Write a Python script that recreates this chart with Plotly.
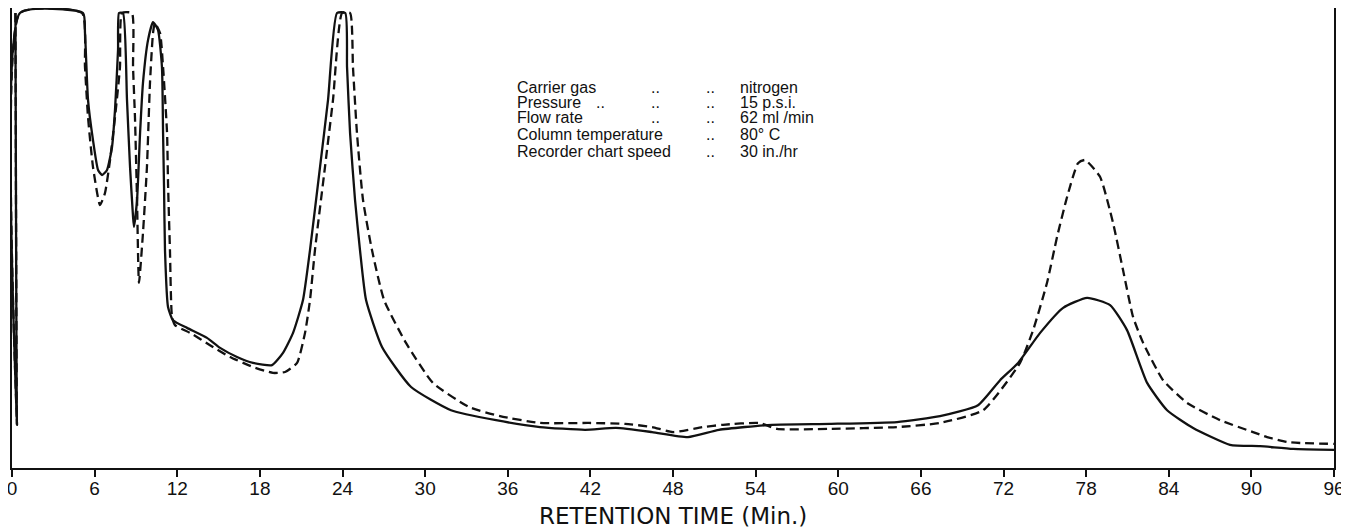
import plotly.graph_objects as go

# ---- data (retention time in min, recorder response in % of full scale) ----
solid_t = [0.25, 0.36, 0.58, 5.16, 5.30, 5.52, 5.88, 6.25, 6.54, 6.90, 7.26, 7.48, 7.70, 7.77,
           8.06, 8.35, 8.57, 8.79, 8.86, 9.08, 9.30, 9.51, 9.88, 10.24, 10.60, 10.89, 10.97, 11.04,
           11.11, 11.33, 11.69, 12.71, 14.16, 15.11, 16.34, 17.50, 18.88, 19.68, 20.41, 21.13, 21.64,
           22.37, 22.95, 23.60, 24.20, 24.33, 24.55, 24.91, 25.27, 25.71, 26.87, 28.98, 31.88, 35.15,
           38.34, 41.61, 43.86, 46.48, 49.09, 51.34, 55.19, 59.40, 64.27, 67.39, 70.15, 71.75, 73.06,
           74.66, 76.33, 78.07, 79.74, 80.97, 82.43, 83.88, 85.77, 88.45, 90.63, 93.03, 96.0]
solid_v = [100, 9.5, 100, 100, 95.6, 80.9, 72.1, 65.5, 64.4, 65.5, 70.5, 78.7, 91.9, 100,
           100, 80.9, 66.2, 55.2, 53.0, 58.9, 73.6, 84.6, 94.1, 98.0, 96.3, 88.1, 73.6, 61.8,
           47.9, 35.4, 32.5, 30.8, 28.6, 26.4, 24.4, 23.1, 22.6, 25.3, 29.7, 36.9, 47.9,
           66.2, 80.9, 100, 100, 88.1, 73.6, 58.9, 47.9, 36.9, 26.6, 17.8, 12.7, 10.5,
           9.0, 8.4, 8.8, 7.9, 6.8, 8.4, 9.5, 9.7, 10.1, 11.4, 13.8, 19.3, 23.1,
           29.7, 35.2, 37.4, 35.8, 30.3, 18.7, 12.7, 8.8, 5.1, 4.8, 4.2, 4.0]

dash_t = [0.25, 0.36, 0.58, 5.08, 5.30, 5.52, 5.88, 6.39, 6.75, 7.12, 7.48, 7.84, 7.99,
          8.71, 8.79, 8.93, 9.08, 9.22, 9.51, 9.80, 10.02, 10.24, 10.38,
          10.75, 10.97, 11.26, 11.33, 11.47, 11.62, 11.84, 12.93, 14.38, 15.83,
          17.50, 18.95, 19.83, 20.70, 21.28, 21.64, 22.00, 22.73, 23.31, 23.97,
          24.55, 24.76, 25.05, 25.49, 26.14, 27.02, 28.61, 30.57, 33.19, 35.44,
          38.34, 41.90, 44.52, 46.48, 48.00, 50.18, 51.63, 54.25, 55.56, 59.40,
          64.27, 67.39, 70.52, 73.20, 74.15, 75.16, 75.89, 76.62, 77.41, 77.92,
          79.01, 79.96, 80.68, 81.41, 82.14, 83.59, 85.33, 87.73, 90.12, 91.14,
          92.59, 93.54, 96.0]
dash_v = [100, 9.5, 100, 100, 88.1, 77.1, 66.2, 57.8, 60.4, 67.7, 77.1, 88.1, 100,
          100, 88.1, 77.1, 58.9, 40.7, 51.6, 66.2, 84.6, 95.6, 97.8,
          95.6, 88.1, 73.6, 62.6, 47.9, 33.2, 31.4, 29.7, 27.0, 24.4,
          22.2, 20.9, 21.1, 23.1, 29.7, 36.9, 47.9, 66.2, 80.9, 100,
          100, 88.1, 73.6, 58.9, 47.9, 36.9, 27.5, 18.7, 13.4, 11.4,
          9.9, 9.9, 9.7, 9.0, 7.9, 9.0, 9.5, 9.9, 8.6, 8.6,
          9.0, 9.9, 12.7, 23.1, 30.3, 40.7, 50.8, 59.6, 67.0, 67.7,
          64.0, 53.8, 43.5, 33.2, 27.5, 19.3, 14.3, 10.5, 7.9, 6.8,
          5.7, 5.5, 5.3]

tick_vals = [0, 6, 12, 18, 24, 30, 36, 42, 48, 54, 60, 66, 72, 78, 84, 90, 96]
tick_text = [str(v) for v in tick_vals]

cond_labels = ["Carrier gas", "Pressure", "Flow rate", "Column temperature", "Recorder chart speed"]
cond_values = ["nitrogen", "15 p.s.i.", "62 ml /min", "80° C", "30 in./hr"]
# which dot-leader columns appear on each row (A, B, C)
cond_dots = [(False, True, True), (True, True, True), (False, True, True),
             (False, False, True), (False, False, True)]

x_title = "RETENTION TIME (Min.)"

# ---- layout geometry (page has an 8px body margin) ----
OFF = 8
W, H = 1349 - OFF, 529 - OFF
ML, MR, MT = 4, 15, 0
PW = W - ML - MR
AXIS_Y = 468                      # page y of the time axis
PH = AXIS_Y - OFF - MT
MB = H - MT - PH
PX_PER_UNIT = 4.55


def px_x(px):
    return (px - OFF - ML) / PW


def px_y(py):
    return (AXIS_Y - py) / PH


fig = go.Figure()
fig.add_trace(go.Scatter(x=solid_t, y=solid_v, mode="lines",
                         line=dict(color="#111111", width=2.3, shape="spline", smoothing=0.5),
                         showlegend=False, hoverinfo="skip"))
fig.add_trace(go.Scatter(x=dash_t, y=dash_v, mode="lines",
                         line=dict(color="#111111", width=2.3, dash="9px,5px",
                                   shape="spline", smoothing=0.5),
                         showlegend=False, hoverinfo="skip"))

font_txt = dict(family="Liberation Sans, Arial, sans-serif", size=16, color="#111111")
row_y = [87, 102, 118, 135, 151]
dot_x = [600, 655, 710]
annos = []
for i, lab in enumerate(cond_labels):
    yy = px_y(row_y[i])
    annos.append(dict(text=lab, x=px_x(515), y=yy, xref="paper", yref="paper",
                      xanchor="left", yanchor="middle", showarrow=False, font=font_txt))
    for j, on in enumerate(cond_dots[i]):
        if on:
            annos.append(dict(text="..", x=px_x(dot_x[j]), y=yy, xref="paper", yref="paper",
                              xanchor="center", yanchor="middle", showarrow=False,
                              font=font_txt))
    annos.append(dict(text=cond_values[i], x=px_x(738), y=yy, xref="paper", yref="paper",
                      xanchor="left", yanchor="middle", showarrow=False, font=font_txt))

annos.append(dict(text=x_title, x=0.5, y=px_y(516), xref="paper", yref="paper",
                  xanchor="center", yanchor="middle", showarrow=False,
                  font=dict(family="DejaVu Sans, sans-serif", size=23, color="#111111")))

fig.update_layout(
    width=W, height=H,
    margin=dict(l=ML, r=MR, t=MT, b=MB),
    paper_bgcolor="white", plot_bgcolor="white",
    annotations=annos,
    xaxis=dict(range=[0, 96], tickvals=tick_vals, ticktext=tick_text,
               showgrid=False, zeroline=False, showline=True, linecolor="#111111",
               linewidth=2, ticks="outside", ticklen=7, tickwidth=1.5, tickcolor="#111111",
               ticklabeloverflow="allow", ticklabelstandoff=-5,
               tickfont=dict(family="Liberation Sans, Arial, sans-serif", size=19,
                             color="#111111")),
    yaxis=dict(range=[0, PH / PX_PER_UNIT], showgrid=False, zeroline=False,
               showticklabels=False, ticks="", showline=True, mirror=True,
               linecolor="#111111", linewidth=2),
)

fig.write_html("out.html")
